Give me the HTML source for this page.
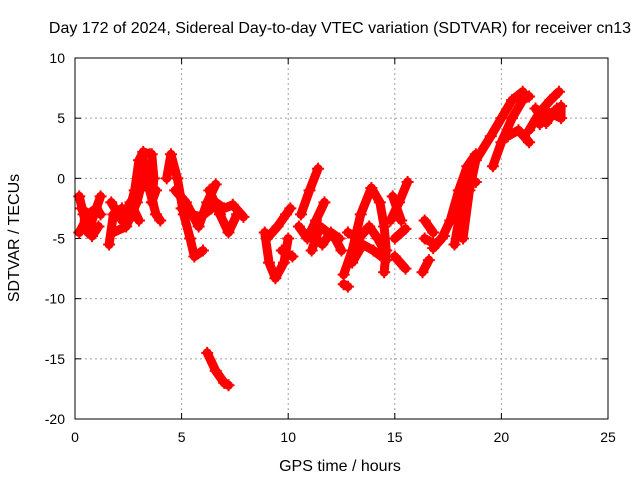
<!DOCTYPE html>
<html><head><meta charset="utf-8"><style>
body{margin:0;background:#fff}
svg text{font-family:"Liberation Sans",sans-serif;font-size:14px;fill:#000}
svg text.big{font-size:16px}
</style></head><body>
<svg id="c" width="640" height="480" xmlns="http://www.w3.org/2000/svg">
<text class="big" x="340" y="33" text-anchor="middle">Day 172 of 2024, Sidereal Day-to-day VTEC variation (SDTVAR) for receiver cn13</text>
<text class="big" x="340" y="471" text-anchor="middle">GPS time / hours</text>
<text class="big" transform="translate(19,238) rotate(-90)" text-anchor="middle">SDTVAR / TECUs</text>
<g id="grid"></g><g id="marks"></g>
<rect x="75" y="58" width="533" height="361" fill="none" stroke="#000" stroke-width="1"/>
</svg>
<script>
const xTicks=[0,5,10,15,20,25];
const yTicks=[-20,-15,-10,-5,0,5,10];
const t1=[[0.2,-1.5],[0.4,-3],[0.6,-4.5],[0.9,-3],[1.2,-1.5]];
const t2=[[0.2,-4.5],[0.5,-3.5],[0.8,-4.8],[1.1,-4]];
const t2b=[[0.3,-2.5],[0.6,-3],[1.0,-2.5],[1.2,-3]];
const t3=[[1.6,-5.5],[1.8,-3],[2.2,-2.5],[2.6,-3],[2.9,-1]];
const t4=[[1.8,-4.5],[2.4,-4],[2.9,-2],[3.2,0]];
const t4b=[[1.7,-2],[2.2,-3.5],[2.6,-2],[3.0,-3.5]];
const t5=[[2.5,-3],[2.8,-1],[3.0,1.5],[3.2,2.2],[3.5,2]];
const t6=[[3.2,1.5],[3.5,-1],[3.8,-3],[4.0,-3.5]];
const t7=[[3.6,2],[3.7,0],[3.6,-2],[3.8,-1]];
const t8=[[4.3,0],[4.5,2],[4.8,0],[5.1,-3],[5.4,-5],[5.6,-6.5],[6.0,-6]];
const t9=[[4.7,-1],[5.2,-2],[5.8,-4],[6.2,-2],[6.6,-0.5]];
const t9b=[[5.0,-2.5],[5.5,-3],[5.9,-3.2],[6.4,-2.5]];
const t10=[[6.3,-1],[6.8,-3],[7.2,-4.5],[7.6,-3]];
const t10b=[[6.6,-2],[7.0,-2.5],[7.4,-2.2],[7.9,-3.2]];
const t11=[[6.2,-14.5],[6.6,-16],[7.0,-17],[7.2,-17.2]];
const t12=[[8.9,-4.5],[9.1,-7],[9.4,-8.3],[9.8,-7],[10.0,-5]];
const t13=[[9.0,-5],[9.5,-4],[9.9,-3],[10.1,-2.5]];
const t14=[[9.7,-6],[10.2,-6.5]];
const t15=[[10.6,-3],[11.0,-1],[11.4,0.8]];
const t16=[[10.5,-4],[10.9,-5],[11.3,-3.5],[11.7,-2]];
const t17=[[11.1,-6],[11.5,-4],[12.2,-5],[12.5,-6]];
const t17b=[[11.0,-4.5],[11.6,-5.5],[12.0,-4.5],[12.4,-5]];
const t18=[[12.6,-8],[13.0,-6],[13.4,-3],[13.9,-0.8],[14.3,-2],[14.5,-4],[14.6,-6],[14.5,-7.8]];
const t19=[[12.8,-4.5],[13.3,-5],[13.8,-4],[14.2,-5],[14.5,-6]];
const t19b=[[13.0,-7],[13.5,-5.5],[14.0,-6],[14.6,-6.8]];
const t20=[[12.6,-8.8],[12.8,-9]];
const t21=[[14.8,-3.5],[15.2,-2],[15.6,-0.3]];
const t22=[[14.9,-1.5],[15.3,-3.5]];
const t23=[[15.0,-5],[15.5,-4.2]];
const t24=[[15.0,-6.5],[15.5,-7.5]];
const t25=[[16.3,-7.8],[16.6,-6.8]];
const t26=[[16.4,-3.5],[16.8,-4.5]];
const t26b=[[16.4,-5],[16.9,-5.5],[17.3,-4.8]];
const t27=[[16.8,-5.8],[17.2,-5],[17.6,-3.5],[18.0,-1],[18.4,1],[18.8,2]];
const t28=[[17.8,-5.5],[18.0,-3.5],[18.2,-1],[18.4,-0.3],[18.8,-0.3]];
const t29=[[18.2,-5],[18.5,-1],[18.8,1.5],[19.5,3.5],[20.0,5],[20.5,6.5],[21.0,7.2]];
const t30=[[19.6,1],[20.0,3],[20.5,5],[21.0,6.5],[21.3,6.8]];
const t31=[[20.3,3.5],[20.8,4],[21.3,3]];
const t32=[[21.3,4],[21.8,5.5],[22.3,6.5],[22.7,7.2]];
const t33=[[21.8,4.5],[22.2,5.5],[22.8,5],[22.8,6]];
const t34=[[21.6,5.8],[22.1,4.6],[22.6,5.8]];
const tracks=[t1,t2,t2b,t3,t4,t4b,t5,t6,t7,t8,t9,t9b,t10,t10b,t11,t12,t13,t14,t15,t16,t17,t17b,t18,t19,t19b,t20,t21,t22,t23,t24,t25,t26,t26b,t27,t28,t29,t30,t31,t32,t33,t34];
const NS="http://www.w3.org/2000/svg";
const X0=75,X1=608,Y0=419,Y1=58;
function sx(h){return X0+(h-0)/(25-0)*(X1-X0);}
function sy(v){return Y0-(v+20)/30*(Y0-Y1);}
const grid=document.getElementById('grid'),marks=document.getElementById('marks');
function mk(tag,a,p){const e=document.createElementNS(NS,tag);for(const k in a)e.setAttribute(k,a[k]);p.appendChild(e);return e;}
xTicks.forEach(t=>{const x=sx(t);
 if(t>0&&t<25){const g=mk('line',{x1:x,x2:x,y1:Y1,y2:Y0,stroke:'#a0a0a0','stroke-dasharray':'2,3'},grid);
 
 }
 mk('line',{x1:x,x2:x,y1:Y0,y2:Y0-6,stroke:'#000'},grid);mk('line',{x1:x,x2:x,y1:Y1,y2:Y1+6,stroke:'#000'},grid);
 const l=mk('text',{x:x,y:Y0+23,'text-anchor':'middle'},grid);l.textContent=t;
 
 });
yTicks.forEach(t=>{const y=sy(t);
 if(t>-20&&t<10){const g=mk('line',{x1:X0,x2:X1,y1:y,y2:y,stroke:'#a0a0a0','stroke-dasharray':'2,3'},grid);
 
 }
 mk('line',{x1:X0,x2:X0+6,y1:y,y2:y,stroke:'#000'},grid);mk('line',{x1:X1,x2:X1-6,y1:y,y2:y,stroke:'#000'},grid);
 const l=mk('text',{x:X0-10,y:y+5,'text-anchor':'end'},grid);l.textContent=t;
 
 });
tracks.forEach((tr,i)=>{
 const pts=tr.map(p=>sx(p[0])+','+sy(p[1])).join(' ');
 const pl=mk('polyline',{points:pts,fill:'none',stroke:'#ff0000','stroke-width':9,'stroke-linejoin':'round','stroke-linecap':'round'},marks);
 
 
 tr.forEach(p=>{const x=sx(p[0]),y=sy(p[1]);
  const m=mk('path',{d:`M${x-6},${y}H${x+6}M${x},${y-6}V${y+6}`,stroke:'#ff0000','stroke-width':2},marks);
  
  });
});
</script>
</body></html>
